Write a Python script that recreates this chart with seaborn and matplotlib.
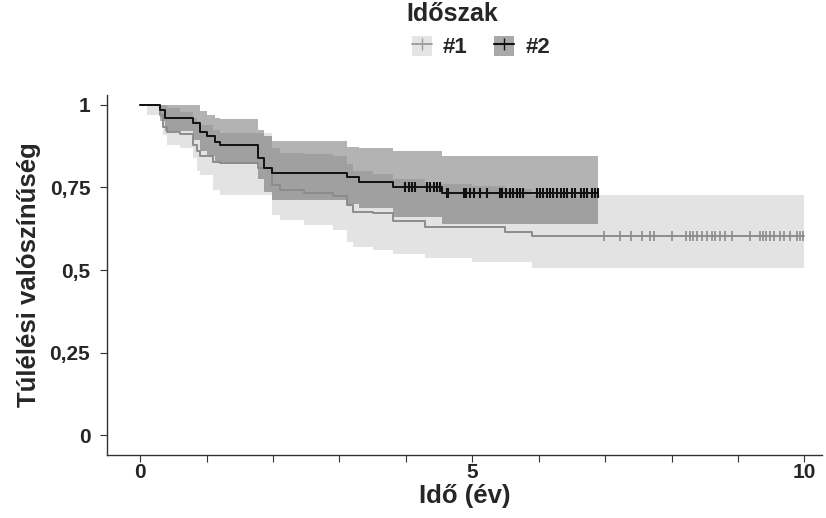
import numpy as np
import matplotlib
matplotlib.use('Agg')
import matplotlib.pyplot as plt
import seaborn as sns
from matplotlib.patches import Patch
from matplotlib.lines import Line2D

# Kaplan-Meier steps (time in years, value after the step)
t1 = [0, 0.10, 0.30, 0.35, 0.40, 0.60, 0.80, 0.85, 0.90, 1.10, 1.20, 1.78, 1.98, 2.11, 2.46, 2.91, 3.11, 3.21, 3.51, 3.80, 4.29, 5.00, 5.50, 5.90]
s1 = [1.0, 1.0, 0.97, 0.934, 0.919, 0.912, 0.88, 0.86, 0.845, 0.828, 0.824, 0.81, 0.758, 0.742, 0.733, 0.724, 0.697, 0.677, 0.672, 0.650, 0.631, 0.631, 0.616, 0.603]
lo1 = [1.0, 0.97, 0.96, 0.909, 0.879, 0.87, 0.839, 0.80, 0.788, 0.742, 0.727, 0.727, 0.667, 0.652, 0.636, 0.621, 0.586, 0.571, 0.561, 0.548, 0.538, 0.524, 0.524, 0.506]
hi1 = [1.0, 1.0, 1.0, 1.0, 0.99, 0.98, 0.96, 0.95, 0.94, 0.925, 0.915, 0.915, 0.87, 0.855, 0.85, 0.845, 0.82, 0.80, 0.79, 0.775, 0.76, 0.755, 0.745, 0.727]
end1 = 10.0

t2 = [0, 0.30, 0.38, 0.80, 0.90, 1.00, 1.13, 1.20, 1.78, 1.86, 1.98, 3.11, 3.29, 3.81, 4.55]
s2 = [1.0, 0.985, 0.96, 0.945, 0.919, 0.905, 0.889, 0.879, 0.839, 0.81, 0.794, 0.782, 0.767, 0.751, 0.734]
lo2 = [1.0, 0.95, 0.92, 0.895, 0.86, 0.845, 0.83, 0.82, 0.775, 0.735, 0.712, 0.70, 0.688, 0.661, 0.638]
hi2 = [1.0, 1.0, 1.0, 1.0, 0.983, 0.97, 0.96, 0.957, 0.924, 0.905, 0.892, 0.873, 0.869, 0.859, 0.845]
end2 = 6.9

# censored observations
cens1 = [6.99, 7.22, 7.39, 7.56, 7.68, 7.74, 8.01, 8.22, 8.28, 8.33, 8.39, 8.46, 8.53, 8.61, 8.66,
         8.73, 8.81, 8.91, 9.18, 9.33, 9.38, 9.42, 9.49, 9.55, 9.63, 9.69, 9.79, 9.89, 9.94, 9.98]
cens2 = [3.99, 4.04, 4.09, 4.14, 4.32, 4.37, 4.42, 4.47, 4.51, 4.62, 4.64, 4.87, 4.91, 4.96, 5.02,
         5.12, 5.22, 5.42, 5.45, 5.51, 5.57, 5.62, 5.67, 5.72, 5.77, 5.97, 6.02, 6.07, 6.12, 6.17,
         6.22, 6.27, 6.33, 6.38, 6.42, 6.50, 6.55, 6.63, 6.68, 6.73, 6.80, 6.85, 6.89]

groups = ['#1', '#2']
yticks = [0, 0.25, 0.5, 0.75, 1]
ylabels = ['0', '0,25', '0,5', '0,75', '1']
xticks = [0, 5, 10]

sns.set_theme(style='white')
plt.rcParams['font.family'] = ['Liberation Sans', 'DejaVu Sans']

fig = plt.figure(figsize=(8.26, 5.18), dpi=100)
ax = fig.add_axes([0.1295, 0.1216, 0.866, 0.695])


def ext(t, v, end):
    return np.array(t + [end]), np.array(v + [v[-1]])


def surv_at(t, s, x):
    idx = np.searchsorted(t, x, side='right') - 1
    return np.array(s)[idx]


# bands
x, l = ext(t1, lo1, end1)
_, h = ext(t1, hi1, end1)
ax.fill_between(x, l, h, step='post', color='#939393', alpha=0.25, lw=0)
x, l = ext(t2, lo2, end2)
_, h = ext(t2, hi2, end2)
ax.fill_between(x, l, h, step='post', color='#181818', alpha=0.33, lw=0)

# curves
x, s = ext(t1, s1, end1)
sns.lineplot(x=x, y=s, drawstyle='steps-post', color='#8c8c8c', lw=1.4, ax=ax, estimator=None, sort=False)
x, s = ext(t2, s2, end2)
sns.lineplot(x=x, y=s, drawstyle='steps-post', color='#111111', lw=1.4, ax=ax, estimator=None, sort=False)

# censor marks
ax.plot(cens1, surv_at(t1, s1, cens1), ls='none', marker='|', ms=7, mew=1.2, color='#8c8c8c')
ax.plot(cens2, surv_at(t2, s2, cens2), ls='none', marker='|', ms=7, mew=1.5, color='#111111')

ax.set_xlim(-0.5, 10.27)
ax.set_ylim(-0.06, 1.03)
ax.set_xticks(xticks)
ax.set_xticks(np.arange(0, 11, 1), minor=True)
ax.set_yticks(yticks)
ax.set_yticklabels(ylabels)
for s in ['top', 'right']:
    ax.spines[s].set_visible(False)
for s in ['left', 'bottom']:
    ax.spines[s].set_color('#333333')
    ax.spines[s].set_linewidth(1.0)
ax.tick_params(axis='both', which='both', direction='out', color='#333333', length=5, width=0.8,
               left=True, bottom=True, labelsize=15)
ax.tick_params(axis='y', pad=7)
ax.tick_params(axis='x', which='both', pad=1)
for lab in ax.get_xticklabels() + ax.get_yticklabels():
    lab.set_fontweight('bold')
ax.set_xlabel('Idő (év)', fontsize=18.5, fontweight='bold', labelpad=1)
ax.set_ylabel('Túlélési valószínűség', fontsize=18.5, fontweight='bold', labelpad=6)

# legend: title and entries placed above the plot
fig.text(452 / 826, 1 - 14 / 518, 'Időszak', ha='center', va='center', fontsize=18, fontweight='bold')
handles = [
    (Patch(facecolor='#e4e4e4', edgecolor='none'), Line2D([], [], color='#9a9a9a', marker='|', ms=9, lw=1.3)),
    (Patch(facecolor='#a9a9a9', edgecolor='none'), Line2D([], [], color='#111111', marker='|', ms=9, lw=1.5)),
]
fig.legend(handles, groups, loc='center', bbox_to_anchor=(481 / 826, 1 - 47 / 518), ncol=2,
           frameon=False, handlelength=0.9, handleheight=1.0, handletextpad=0.5, columnspacing=1.2,
           prop={'size': 16, 'weight': 'bold'})

fig.savefig('out.png', dpi=100)
